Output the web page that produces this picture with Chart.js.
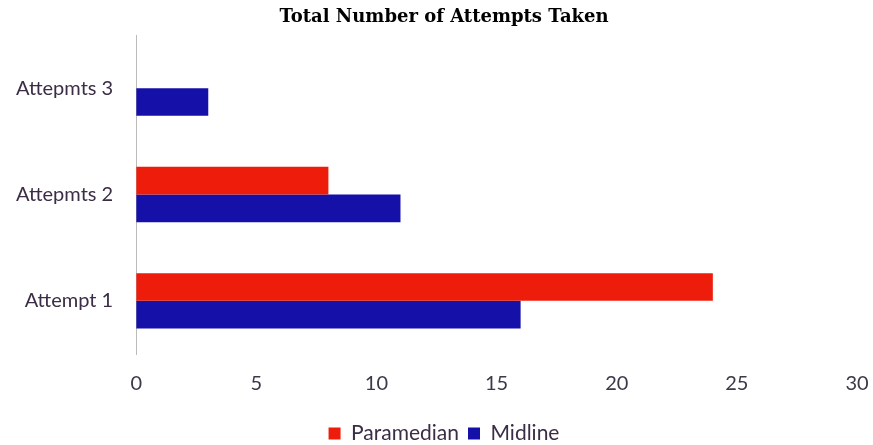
<!DOCTYPE html>
<html>
<head>
<meta charset="utf-8">
<script src="https://cdn.jsdelivr.net/npm/chart.js@4"></script>
<style>
    html, body { margin: 0; padding: 0; background: #fff; }
    #wrap { width: 873px; height: 445px; }
</style>
</head>
<body>
<div id="wrap"><canvas id="attemptsChart"></canvas></div>
<script>
const categories = ['Attepmts 3', 'Attepmts 2', 'Attempt 1'];
const paramedian = [0, 8, 24];
const midline = [3, 11, 16];
const xTicks = [0, 5, 10, 15, 20, 25, 30];

const labelFont = { family: "Lato, 'Open Sans', sans-serif", size: 20 };

const ctx = document.getElementById('attemptsChart').getContext('2d');

new Chart(ctx, {
    type: 'bar',
    data: {
        labels: categories,
        datasets: [{
            label: 'Paramedian',
            data: paramedian,
            backgroundColor: '#ee1c0a'
        }, {
            label: 'Midline',
            data: midline,
            backgroundColor: '#1410a8'
        }]
    },
    options: {
        indexAxis: 'y',
        responsive: true,
        maintainAspectRatio: false,
        animation: false,
        datasets: {
            bar: { categoryPercentage: 0.52, barPercentage: 1.0 }
        },
        layout: { padding: { left: -7, right: -22, top: 0, bottom: -9 } },
        scales: {
            x: {
                min: xTicks[0],
                max: xTicks[xTicks.length - 1],
                grid: { display: false, drawTicks: false },
                border: { display: false },
                ticks: {
                    stepSize: 5,
                    padding: 18,
                    color: '#3a3a4a',
                    font: labelFont
                },
                // keep the plot close to the right edge like the original
                afterFit: function(axis) {
                    axis.paddingRight = 16;
                }
            },
            y: {
                grid: { display: false, drawTicks: false },
                border: { display: true, color: '#bbbbbb', width: 1 },
                ticks: {
                    padding: 23,
                    color: '#3b2d45',
                    font: labelFont
                }
            }
        },
        plugins: {
            legend: {
                position: 'bottom',
                labels: {
                    boxWidth: 12,
                    boxHeight: 12,
                    padding: 9,
                    color: '#3b2d45',
                    font: { family: labelFont.family, size: 21 }
                }
            },
            title: {
                display: true,
                text: 'Total Number of Attempts Taken',
                color: '#000',
                font: { family: "'DejaVu Serif', 'Liberation Serif', serif", size: 18, weight: 'bold' },
                padding: { top: -3, bottom: 7 }
            },
            tooltip: { enabled: false }
        }
    }
});
</script>
</body>
</html>
